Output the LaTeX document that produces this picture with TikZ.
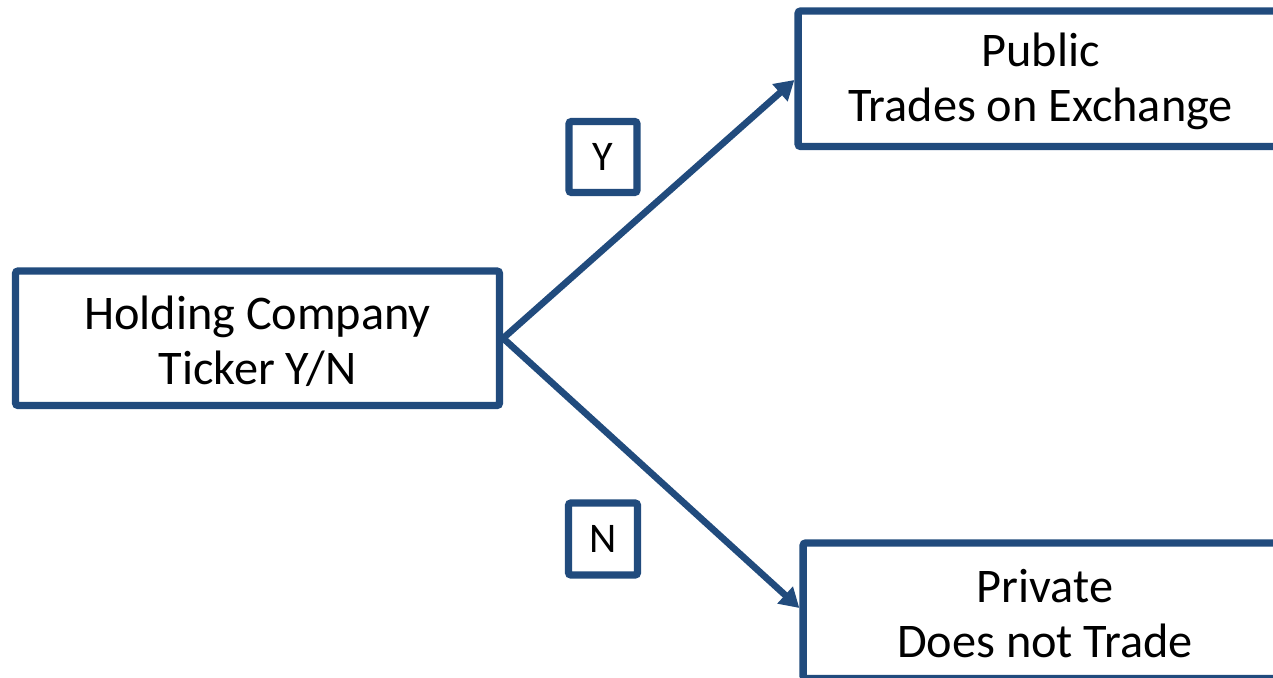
\documentclass[tikz,border=0pt]{standalone}
\usepackage{fontspec}
\setmainfont{Carlito}
\usetikzlibrary{arrows.meta}
\definecolor{dblue}{RGB}{33,75,125}
\begin{document}
\begin{tikzpicture}[x=0.02cm,y=-0.02cm,
  boxnode/.style={draw=dblue,line width=4.2pt,rounded corners=1.5pt,fill=white,inner sep=0pt},
  bigtext/.style={font=\fontsize{27.5}{31.2}\selectfont,align=center,text=black},
  smalltext/.style={font=\fontsize{24}{28}\selectfont,text=black},
  conn/.style={draw=dblue,line width=3.8pt,-{Triangle[length=11pt,width=12.5pt]}}]
\useasboundingbox (0,0) rectangle (1273,678);
\node[boxnode,minimum width=9.68cm,minimum height=2.69cm] (hold) at (257.5,338.25) {};
\node[bigtext] (holdt) at ([yshift=-1.5pt]hold.center) {Holding Company\\Ticker Y/N};
\node[boxnode,minimum width=9.7cm,minimum height=2.71cm] (pub) at (1040.5,78.75) {};
\node[bigtext] (pubt) at ([yshift=-1.5pt]pub.center) {Public\\Trades on Exchange};
\node[boxnode,minimum width=9.68cm,minimum height=2.71cm] (priv) at (1045,610.75) {};
\node[bigtext] (privt) at ([yshift=-1.5pt]priv.center) {Private\\Does not Trade};
\node[boxnode,minimum width=1.36cm,minimum height=1.42cm] (ybox) at (603,157) {};
\node[smalltext] (yt) at (ybox.center) {Y};
\node[boxnode,minimum width=1.38cm,minimum height=1.44cm] (nbox) at (603,539) {};
\node[smalltext] (nt) at (nbox.center) {N};
\coordinate (start) at (hold.east);
\draw[conn] (start) -- (pub.west |- 0,80);
\draw[conn] (start) -- (priv.west |- 0,608);
\end{tikzpicture}
\end{document}
